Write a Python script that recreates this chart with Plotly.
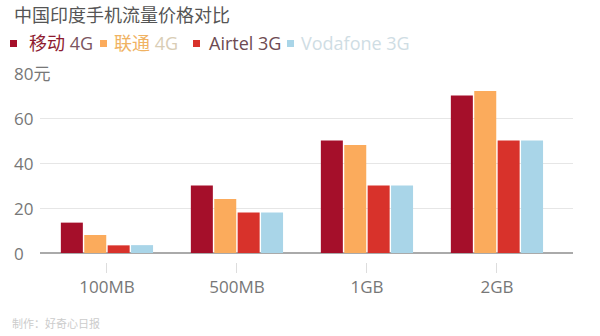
import plotly.graph_objects as go

categories = ["100MB", "500MB", "1GB", "2GB"]
series_names = ["移动 4G", "联通 4G", "Airtel 3G", "Vodafone 3G"]
yidong_4g = [13.5, 30, 50, 70]
liantong_4g = [8, 24, 48, 72]
airtel_3g = [3.4, 18, 30, 50]
vodafone_3g = [3.5, 18, 30, 50]
y_tick_vals = [0, 20, 40, 60, 80]
y_tick_text = ["0", "20", "40", "60", "80元"]

title_text = "中国印度手机流量价格对比"
footer_text = "制作：好奇心日报"

colors = ["#a50f2a", "#fbab5c", "#d8322b", "#a9d5e8"]
FONT = "'Open Sans', 'Noto Sans CJK SC', sans-serif"

L, R, T, B = 40, 27, 73, 74
W, H = 600, 336
plot_h = H - T - B
zero_px = 253
ydom0 = (H - B - zero_px) / plot_h  # y-axis domain starts a little above the x tick marks

fig = go.Figure()
for name, vals, c in zip(series_names, [yidong_4g, liantong_4g, airtel_3g, vodafone_3g], colors):
    fig.add_trace(go.Bar(x=categories, y=vals, name=name, marker=dict(color=c, line=dict(width=0)),
                         showlegend=False))

ann = []
shapes = []
# title
ann.append(dict(text=title_text, x=0, y=1, xref="paper", yref="paper", xanchor="left", yanchor="middle",
                xshift=12 - L, yshift=T - 15, showarrow=False,
                font=dict(family=FONT, size=18, color="#555555")))
# legend (custom, original styling)
legend_items = [
    (10, 27, "<span style='color:#8e1b30'>移动</span> <span style='color:#7b5560'>4G</span>"),
    (100, 112, "<span style='color:#f0b262'>联通</span> <span style='color:#d9cdb5'>4G</span>"),
    (193, 207, "<span style='color:#6d4a52'>Airtel 3G</span>"),
    (287, 299, "<span style='color:#cfdde4'>Vodafone 3G</span>"),
]
for (sq_x, tx_x, txt), c in zip(legend_items, colors):
    shapes.append(dict(type="rect", xref="paper", yref="paper", xsizemode="pixel", ysizemode="pixel",
                       xanchor=0, yanchor=1, x0=sq_x - L, x1=sq_x - L + 7,
                       y0=T - 47, y1=T - 40, fillcolor=c, line=dict(width=0)))
    ann.append(dict(text=txt, x=0, y=1, xref="paper", yref="paper", xanchor="left", yanchor="middle",
                    xshift=tx_x - L, yshift=T - 43, showarrow=False,
                    font=dict(family=FONT, size=18)))
# y tick labels (left aligned, white background)
for v, t in zip(y_tick_vals, y_tick_text):
    ann.append(dict(text=t, x=0, y=v, xref="paper", yref="y", xanchor="left", yanchor="middle",
                    xshift=11 - L, showarrow=False, bgcolor="white", borderpad=2,
                    font=dict(family=FONT, size=17, color="#777777")))
# footer
ann.append(dict(text=footer_text, x=0, y=0, xref="paper", yref="paper", xanchor="left", yanchor="middle",
                xshift=10 - L, yshift=-(323 - (H - B)), showarrow=False,
                font=dict(family=FONT, size=11, color="#cccccc")))

fig.update_layout(
    width=W, height=H,
    margin=dict(l=L, r=R, t=T, b=B, pad=0),
    paper_bgcolor="white", plot_bgcolor="white",
    barmode="group", bargap=0.28, bargroupgap=0.06,
    annotations=ann, shapes=shapes,
    font=dict(family=FONT),
    xaxis=dict(range=[-0.515, 3.585], anchor="free", position=0,
               showgrid=False, zeroline=False, showline=False,
               ticks="outside", ticklen=10, tickcolor="#dddddd", tickwidth=1,
               tickfont=dict(family=FONT, size=17, color="#777777")),
    yaxis=dict(range=[0, 80], domain=[ydom0, 1],
               tickvals=y_tick_vals, showticklabels=False,
               showgrid=True, gridcolor="#e6e6e6", gridwidth=1,
               zeroline=True, zerolinecolor="#aaaaaa", zerolinewidth=1.5,
               showline=False, ticks=""),
)

fig.write_html("out.html")
